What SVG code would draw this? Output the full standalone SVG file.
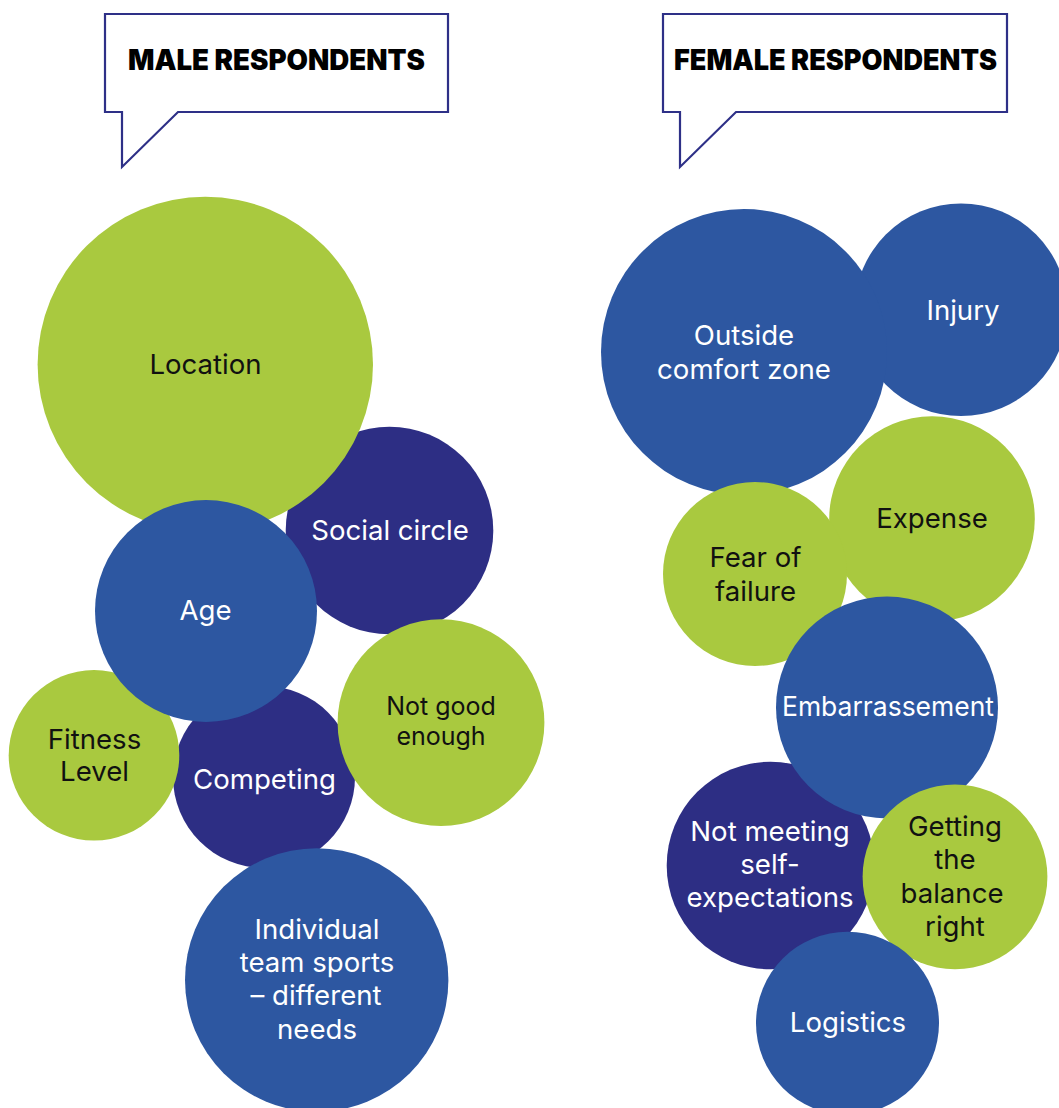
<svg xmlns="http://www.w3.org/2000/svg" width="1059" height="1108" viewBox="0 0 1059 1108">
<style>
.bg{fill:#ffffff}
.bubble{fill:#ffffff;stroke:#2e3087;stroke-width:2.2;stroke-linejoin:miter}
.head{font-family:Inter,"Liberation Sans",sans-serif;font-weight:900;font-size:28px;fill:#000000;text-anchor:middle}
.g{fill:#a9c93f}
.b{fill:#2d57a1}
.n{fill:#2d2e84}
.lbl{font-family:Inter,"Liberation Sans",sans-serif;font-size:27.6px;text-anchor:middle}
.lw{fill:#ffffff}
.lk{fill:#111111}
.sm{font-size:25px}
</style>
<rect class="bg" x="0" y="0" width="1059" height="1108"/>

<g id="male-header">
<path class="bubble" d="M105,14 H448 V112 H178 L122,167 V112 H105 Z"/>
<text class="head" x="276.5" y="70" textLength="297" lengthAdjust="spacingAndGlyphs">MALE RESPONDENTS</text>
</g>
<g id="female-header">
<path class="bubble" d="M663,14 H1007 V112 H736 L680,167 V112 H663 Z"/>
<text class="head" x="835.5" y="70" textLength="323" lengthAdjust="spacingAndGlyphs">FEMALE RESPONDENTS</text>
</g>

<g id="social-circle">
<circle class="n" cx="389.5" cy="530.5" r="103.8"/>
<text class="lbl lw" x="390" y="539.5">Social circle</text>
</g>
<g id="location">
<circle class="g" cx="205.3" cy="364.4" r="167.7"/>
<text class="lbl lk" x="205.5" y="374">Location</text>
</g>
<g id="competing">
<circle class="n" cx="264" cy="777" r="91"/>
<text class="lbl lw" x="264.5" y="788.5">Competing</text>
</g>
<g id="individual-team-sports">
<circle class="b" cx="316.7" cy="980" r="131.7"/>
<text class="lbl lw" x="317" y="939">Individual</text>
<text class="lbl lw" x="317" y="972">team sports</text>
<text class="lbl lw" x="316" y="1005">– different</text>
<text class="lbl lw" x="317" y="1038.5">needs</text>
</g>
<g id="fitness-level">
<circle class="g" cx="94" cy="755.3" r="85.3"/>
<text class="lbl lk" x="94.5" y="748.5">Fitness</text>
<text class="lbl lk" x="94.5" y="781">Level</text>
</g>
<g id="age">
<circle class="b" cx="206" cy="611" r="111"/>
<text class="lbl lw" x="205.5" y="620">Age</text>
</g>
<g id="not-good-enough">
<circle class="g" cx="441" cy="722.7" r="103.4"/>
<text class="lbl lk sm" x="441" y="715">Not good</text>
<text class="lbl lk sm" x="441" y="745">enough</text>
</g>

<g id="injury">
<circle class="b" cx="961" cy="309.7" r="106.3"/>
<text class="lbl lw" x="963" y="319.5">Injury</text>
</g>
<g id="outside-comfort-zone">
<circle class="b" cx="744" cy="352" r="143"/>
<text class="lbl lw" x="744" y="345">Outside</text>
<text class="lbl lw" x="744" y="378.5">comfort zone</text>
</g>
<g id="expense">
<circle class="g" cx="932" cy="519" r="102.8"/>
<text class="lbl lk" x="932" y="528">Expense</text>
</g>
<g id="fear-of-failure">
<circle class="g" cx="755" cy="574" r="92"/>
<text class="lbl lk" x="755.5" y="567">Fear of</text>
<text class="lbl lk" x="755.5" y="600.5">failure</text>
</g>
<g id="not-meeting-self-expectations">
<circle class="n" cx="770.5" cy="865.5" r="103.8"/>
<text class="lbl lw" x="770" y="841">Not meeting</text>
<text class="lbl lw" x="770" y="874">self-</text>
<text class="lbl lw" x="770" y="907">expectations</text>
</g>
<g id="embarrassement">
<circle class="b" cx="887" cy="707.5" r="111"/>
<text class="lbl lw" x="888" y="715.5" textLength="212" lengthAdjust="spacingAndGlyphs">Embarrassement</text>
</g>
<g id="getting-the-balance-right">
<circle class="g" cx="955" cy="876.8" r="92.4"/>
<text class="lbl lk" x="955" y="835.5">Getting</text>
<text class="lbl lk" x="955" y="868.5">the</text>
<text class="lbl lk" x="952" y="902.5">balance</text>
<text class="lbl lk" x="955" y="935.5">right</text>
</g>
<g id="logistics">
<circle class="b" cx="847.5" cy="1023.2" r="91.5"/>
<text class="lbl lw" x="848" y="1032">Logistics</text>
</g>
</svg>
